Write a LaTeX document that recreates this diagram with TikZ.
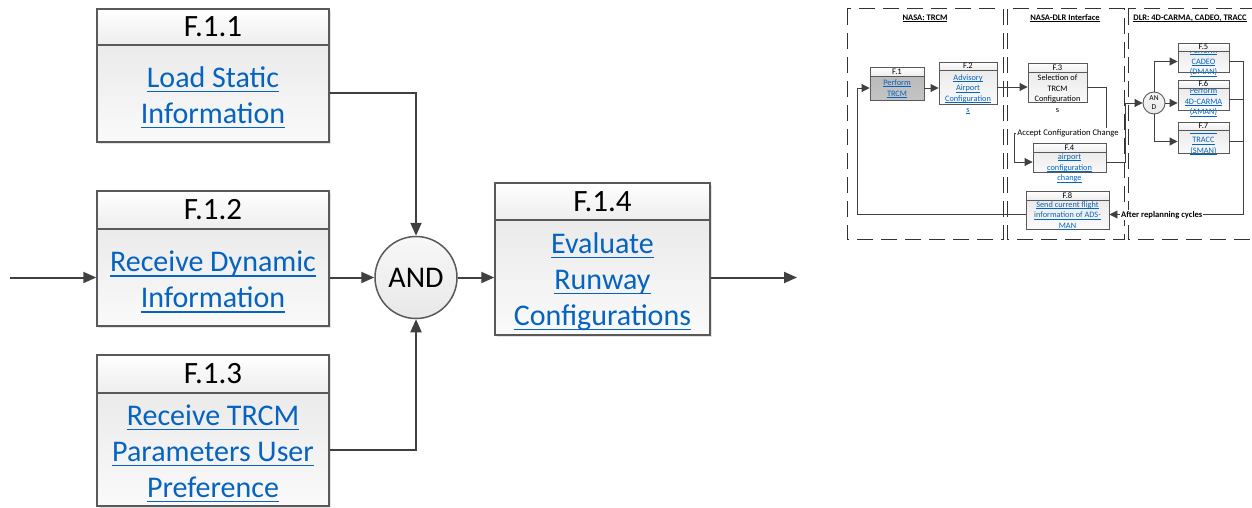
\documentclass[tikz,border=0pt]{standalone}
\usepackage{fontspec}
\setmainfont{Carlito}
\usetikzlibrary{arrows.meta,shadows,calc}
\definecolor{lnk}{HTML}{0563C1}
\definecolor{edgec}{HTML}{595959}
\definecolor{lnc}{HTML}{404040}
\newsavebox\ulbox
\def\ulthk{1.4pt}
\newcommand\myul[1]{\sbox\ulbox{#1}\leavevmode\rlap{\rule[-0.16em]{\wd\ulbox}{\ulthk}}\usebox\ulbox}
\tikzset{
  shd/.style={drop shadow={opacity=0.22,shadow xshift=2pt,shadow yshift=-2pt}},
  hdr/.style={draw=edgec, line width=1.5pt, top color=white, bottom color=black!7, inner sep=0pt, shd,
    font=\fontsize{31}{36}\selectfont},
  bdy/.style={draw=edgec, line width=1.5pt, top color=black!8, bottom color=black!2, inner sep=0pt, shd},
  btxt/.style={align=center, text=lnk, inner sep=0pt, font=\fontsize{30}{36}\selectfont\def\ulthk{1.4pt}},
  andc/.style={circle, draw=edgec, line width=1.5pt, top color=black!3, bottom color=black!9, inner sep=0pt,
    font=\fontsize{30}{34}\selectfont},
  marr/.style={draw=lnc, line width=2pt, -{Triangle[length=13pt,width=11pt]}},
  reg/.style={draw=black!80, line width=1pt, dash pattern=on 16pt off 8pt},
  ttl/.style={font=\fontsize{8.5}{10}\bfseries\selectfont\def\ulthk{0.5pt}, inner sep=0pt},
  sh/.style={draw=edgec, line width=0.9pt, top color=white, bottom color=black!7, inner sep=0pt,
    font=\fontsize{8.5}{9}\selectfont, drop shadow={opacity=0.22,shadow xshift=1pt,shadow yshift=-1pt}},
  sb/.style={draw=edgec, line width=0.9pt, top color=black!8, bottom color=black!2, inner sep=0pt,
    drop shadow={opacity=0.22,shadow xshift=1pt,shadow yshift=-1pt}},
  stxt/.style={align=center, text=lnk, inner sep=0pt, font=\fontsize{8.3}{10.7}\selectfont\def\ulthk{0.5pt}},
  sarr/.style={draw=lnc, line width=0.9pt, -{Triangle[length=8pt,width=8pt]}},
  sln/.style={draw=lnc, line width=0.9pt},
  slab/.style={fill=white, inner sep=1pt, font=\fontsize{8.6}{10}\selectfont},
  sandc/.style={circle, draw=edgec, line width=0.9pt, top color=black!3, bottom color=black!9, inner sep=0pt,
    align=center, font=\fontsize{7.5}{9}\selectfont},
}
\begin{document}
\begin{tikzpicture}[x=1pt,y=-1pt]
\useasboundingbox[fill=white] (0,0) rectangle (1252,508);

% ---------------- main diagram ----------------
\node[hdr, minimum width=232pt, minimum height=36pt] (h11) at (213,27) {F.1.1};
\node[bdy, minimum width=232pt, minimum height=97pt] (b11) at (213,93.5) {};
\node[btxt] (t11) at (213,97.5) {\myul{Load Static}\\\myul{Information}};
\node[hdr, minimum width=232pt, minimum height=38pt] (h12) at (213,210) {F.1.2};
\node[bdy, minimum width=232pt, minimum height=97pt] (b12) at (213,277.5) {};
\node[btxt] (t12) at (213,282) {\myul{Receive Dynamic}\\\myul{Information}};
\node[hdr, minimum width=232pt, minimum height=38pt] (h13) at (213,374) {F.1.3};
\node[bdy, minimum width=232pt, minimum height=113pt] (b13) at (213,449.5) {};
\node[btxt] (t13) at (213,453.5) {\myul{Receive TRCM}\\\myul{Parameters User}\\\myul{Preference}};
\node[hdr, minimum width=215pt, minimum height=37pt] (h14) at (602.5,201.5) {F.1.4};
\node[bdy, minimum width=215pt, minimum height=115pt] (b14) at (602.5,277.5) {};
\node[btxt] (t14) at (602.5,281.5) {\myul{Evaluate}\\\myul{Runway}\\\myul{Configurations}};
\node[andc, minimum size=82pt] (and) at (416,277.5) {AND};

\coordinate (in) at (10,277.5);
\coordinate (out) at (797,277.5);
\draw[marr] (in) -- (b12.west);
\draw[marr] (b11.east) -| (and.north);
\draw[marr] (b12.east) -- (and.west);
\draw[marr] (b13.east) -| (and.south);
\draw[marr] (and.east) -- (b14.west);
\draw[marr] (b14.east) -- (out);

% ---------------- small diagram ----------------
\draw[reg] (847,9) rectangle (1003,239);
\draw[reg] (1007,9) rectangle (1124,239);
\draw[reg] (1128,9) rectangle (1262,239);
\node[ttl] (ttl1) at (925,18) {\myul{NASA: TRCM}};
\node[ttl] (ttl2) at (1065,18) {\myul{NASA-DLR Interface}};
\node[ttl] (ttl3) at (1190,18) {\myul{DLR: 4D-CARMA, CADEO, TRACC}};

% F.1
\node[sb, top color=black!27, bottom color=black!23, minimum width=54pt, minimum height=24pt] (b1) at (897,88) {};
\node[stxt] (t1) at (897,88.5) {\myul{Perform}\\\myul{TRCM}};
\node[sh, minimum width=54pt, minimum height=9pt] (h1) at (897,71.5) {F.1};
% F.2
\node[sb, minimum width=58pt, minimum height=34pt] (b2) at (968,87) {};
\node[stxt] (t2) at (968,94) {\myul{Advisory}\\\myul{Airport}\\\myul{Configuration}\\\myul{s}};
\node[sh, minimum width=58pt, minimum height=8pt] (h2) at (968,66) {F.2};
% F.3
\node[sb, minimum width=59pt, minimum height=30pt] (b3) at (1057.5,87) {};
\node[stxt, text=black] (t3) at (1057.5,93.5) {Selection of\\TRCM\\Configuration\\s};
\node[sh, minimum width=59pt, minimum height=9pt] (h3) at (1057.5,67.5) {F.3};
% F.4
\node[sb, minimum width=73pt, minimum height=20pt] (b4) at (1069.5,162) {};
\node[stxt] (t4) at (1069.5,168) {\myul{airport}\\\myul{configuration}\\\myul{change}};
\node[sh, minimum width=73pt, minimum height=9pt] (h4) at (1069.5,147.5) {F.4};
% F.8
\node[sb, minimum width=83pt, minimum height=29pt] (b8) at (1067.5,214.5) {};
\node[stxt] (t8) at (1067.5,215.5) {\myul{Send current flight}\\\myul{information of ADS-}\\\myul{MAN}};
\node[sh, minimum width=83pt, minimum height=9pt] (h8) at (1067.5,195.5) {F.8};
% F.5
\node[sb, minimum width=51pt, minimum height=21pt] (b5) at (1203.5,61.5) {};
\node[stxt] (t5) at (1203.5,62) {\myul{Perform}\\\myul{CADEO}\\\myul{(DMAN)}};
\node[sh, minimum width=51pt, minimum height=8pt] (h5) at (1203.5,47) {F.5};
% F.6
\node[sb, minimum width=51pt, minimum height=22pt] (b6) at (1203.5,99) {};
\node[stxt] (t6) at (1203.5,102) {\myul{Perform}\\\myul{4D-CARMA}\\\myul{(AMAN)}};
\node[sh, minimum width=51pt, minimum height=8pt] (h6) at (1203.5,84) {F.6};
% F.7
\node[sb, minimum width=51pt, minimum height=23pt] (b7) at (1203.5,141.5) {};
\node[stxt] (t7) at (1203.5,140.5) {\myul{Perform}\\\myul{TRACC}\\\myul{(SMAN)}};
\node[sh, minimum width=51pt, minimum height=8pt] (h7) at (1203.5,126) {F.7};
% AND
\node[sandc, minimum size=22pt] (and2) at (1154,103) {AN\\D};

% connectors
\coordinate (lp1) at (857,150);
\coordinate (c1) at (1106,133);
\coordinate (c2) at (1014,133);
\coordinate (c3) at (1125,130);
\coordinate (c4) at (1243,214.5);
\draw[sarr] (b8.west) -| (lp1) |- (b1.west);
\draw[sarr] (b1.east) -- (b1.east -| b2.west);
\draw[sarr] (b2.east) -- (b2.east -| b3.west);
\draw[sarr] (b3.east) -| (c1) -- (c2) |- (b4.west);
\draw[sarr] (b4.east) -| (c3) |- (and2.west);
\draw[sarr] (and2.north) |- (b5.west);
\draw[sarr] (and2.east) -- (and2.east -| b6.west);
\draw[sarr] (and2.south) |- (b7.west);
\draw[sln] (b5.east) -| (c4);
\draw[sln] (b6.east) -- (b6.east -| c4);
\draw[sln] (b7.east) -- (b7.east -| c4);
\draw[sarr] (c4) -- (b8.east);
\node[slab] (lab1) at (1068,133) {Accept Configuration Change};
\node[slab, anchor=west, font=\fontsize{8.6}{10}\bfseries\selectfont] (lab2) at (1120,215) {After replanning cycles};
\end{tikzpicture}
\end{document}
